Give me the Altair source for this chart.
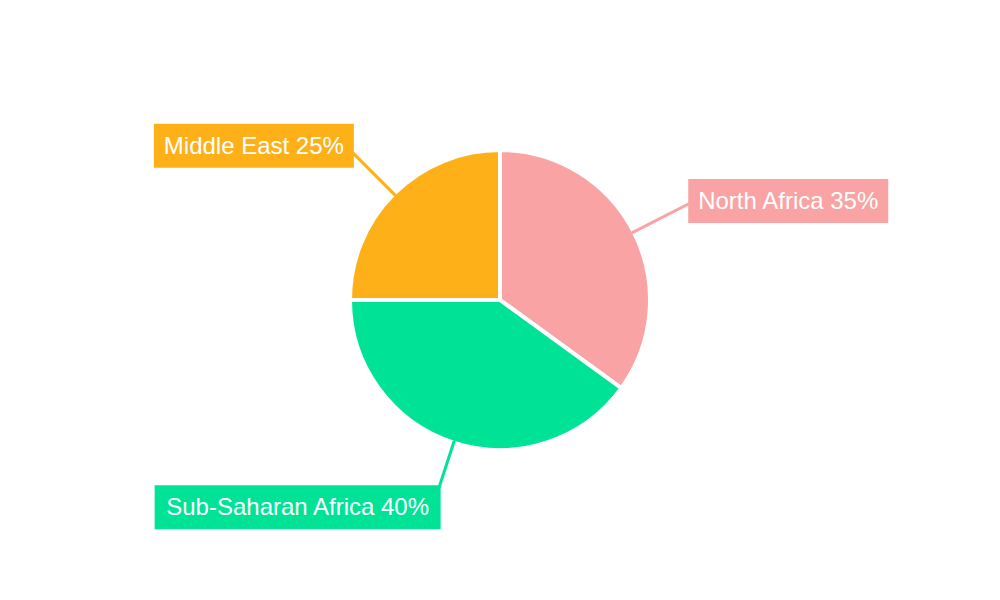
import math
import altair as alt
import pandas as pd

# ---- data ----
regions = ["North Africa", "Sub-Saharan Africa", "Middle East"]
shares = [35, 40, 25]
colors = ["#F9A3A4", "#00E396", "#FEB019"]

# ---- layout (page pixels) ----
W, H = 984, 584          # chart area (page has 8px margin)
CX, CY = 500, 300        # pie centre on page
R_OUT = 150              # outer radius (stroke 4 hides 2px)
R_EDGE = 148             # visible edge, where leader lines start
R_END = 218              # leader line end
BOX_H = 44
FONT_SIZE = 24
box_widths = {"North Africa": 200, "Sub-Saharan Africa": 286, "Middle East": 200}

labels = [f"{r} {s}%" for r, s in zip(regions, shares)]
total = sum(shares)

rows = []
cum = 0
for i, (reg, s, lab) in enumerate(zip(regions, shares, labels)):
    mid = (cum + s / 2) / total * 2 * math.pi
    cum += s
    sx, sy = CX + R_EDGE * math.sin(mid), CY - R_EDGE * math.cos(mid)
    ex, ey = CX + R_END * math.sin(mid), CY - R_END * math.cos(mid)
    w = box_widths[reg]
    if math.sin(mid) >= 0:
        bx0 = ex - 6
        bx1 = bx0 + w
    else:
        bx1 = ex + 8
        bx0 = bx1 - w
    rows.append(dict(region=reg, share=s, label=lab, idx=i,
                     sx=sx, sy=sy, ex=ex, ey=ey,
                     bx0=bx0, bx1=bx1, by0=ey - BOX_H / 2, by1=ey + BOX_H / 2,
                     tx=(bx0 + bx1) / 2, ty=ey))
df = pd.DataFrame(rows)

color_scale = alt.Scale(domain=regions, range=colors)
xs = alt.Scale(domain=[8, 8 + W], nice=False, zero=False)
ys = alt.Scale(domain=[8, 8 + H], nice=False, zero=False, reverse=True)

pie = alt.Chart(df).mark_arc(outerRadius=R_OUT, stroke="white", strokeWidth=4).encode(
    theta=alt.Theta("share:Q", stack=True),
    color=alt.Color("region:N", scale=color_scale, legend=None),
    order=alt.Order("idx:Q"),
)

lines = alt.Chart(df).mark_rule(strokeWidth=3).encode(
    x=alt.X("sx:Q", scale=xs, axis=None),
    y=alt.Y("sy:Q", scale=ys, axis=None),
    x2="ex:Q",
    y2="ey:Q",
    color=alt.Color("region:N", scale=color_scale, legend=None),
)

boxes = alt.Chart(df).mark_rect().encode(
    x=alt.X("bx0:Q", scale=xs, axis=None),
    x2="bx1:Q",
    y=alt.Y("by0:Q", scale=ys, axis=None),
    y2="by1:Q",
    color=alt.Color("region:N", scale=color_scale, legend=None),
)

texts = alt.Chart(df).mark_text(
    font="Liberation Sans", fontSize=FONT_SIZE, color="white",
    align="center", baseline="middle", dy=1,
).encode(
    x=alt.X("tx:Q", scale=xs, axis=None),
    y=alt.Y("ty:Q", scale=ys, axis=None),
    text="label:N",
)

chart = alt.layer(pie, lines, boxes, texts).properties(
    width=W, height=H, padding=0,
    autosize=alt.AutoSizeParams(type="none"),
).configure_view(stroke=None)

chart.save("out.html", embed_options={"renderer": "svg", "actions": False})
